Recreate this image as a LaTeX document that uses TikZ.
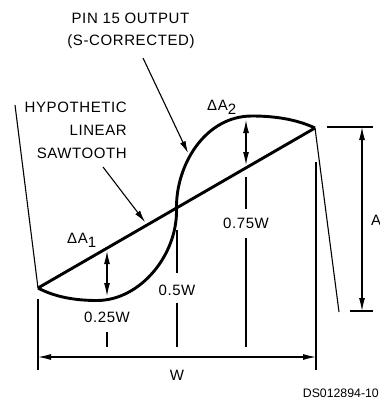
\documentclass[tikz,border=0pt]{standalone}
\usepackage{fontspec}
\setmainfont{Liberation Sans}
\newfontfamily\lblfont[LetterSpace=4]{Liberation Sans}
\usetikzlibrary{arrows.meta}

\begin{document}
\begin{tikzpicture}[x=1pt,y=-1pt,
trace/.style={line width=2.9pt,line join=round},
dimline/.style={line width=1.1pt},
dimarrow/.style={dimline,{Latex[length=13pt,width=6pt]}-{Latex[length=13pt,width=6pt]}},
pointer/.style={dimline,-{Latex[length=12pt,width=6pt]}},
lbl/.style={font=\lblfont\fontsize{15}{18}\selectfont,inner sep=0pt,anchor=base},
tag/.style={font=\fontsize{12.3}{14}\selectfont,inner sep=0pt,anchor=base east}
]
\useasboundingbox (0,0) rectangle (380,399);
% waveform end points
\coordinate (start) at (38,288);
\coordinate (stop) at (315,128);
\coordinate (mid) at (176.5,208);
\coordinate (rl) at (15,105);
\coordinate (rr) at (339,312);
% retrace
\draw[dimline] (rl) -- (start);
\draw[dimline] (stop) -- (rr);
% linear sawtooth and s-corrected output
\draw[trace] (start) -- (stop);
\draw[trace] (start) .. controls (55,297) and (75,300.5) .. (97,300.5)
  .. controls (140,300.5) and (178,255) .. (mid)
  .. controls (176,165) and (205,116) .. (252,116)
  .. controls (280,116) and (300,121) .. (stop);
% extension lines
\coordinate (e0a) at (38,299);  \coordinate (e0b) at (38,370);
\coordinate (e1a) at (107,332); \coordinate (e1b) at (107,347);
\coordinate (e2a) at (177,230); \coordinate (e2b) at (177,273);
\coordinate (e2c) at (177,303); \coordinate (e2d) at (177,347);
\coordinate (e3a) at (246,177); \coordinate (e3b) at (246,209);
\coordinate (e3c) at (246,238); \coordinate (e3d) at (246,347);
\coordinate (e4a) at (316,162); \coordinate (e4b) at (316,370);
\draw[dimline] (e0a) -- (e0b);
\draw[dimline] (e1a) -- (e1b);
\draw[dimline] (e2a) -- (e2b);
\draw[dimline] (e2c) -- (e2d);
\draw[dimline] (e3a) -- (e3b);
\draw[dimline] (e3c) -- (e3d);
\draw[dimline] (e4a) -- (e4b);
% W dimension
\coordinate (wl) at (38,357);
\coordinate (wr) at (316,357);
\draw[dimarrow] (wl) -- (wr);
% A dimension
\coordinate (ta) at (327,127); \coordinate (tb) at (373,127);
\coordinate (ba) at (350,311); \coordinate (bb) at (373,311);
\coordinate (at) at (362,127); \coordinate (ab) at (362,311);
\draw[dimline] (ta) -- (tb);
\draw[dimline] (ba) -- (bb);
\draw[dimarrow] (at) -- (ab);
% delta A arrows
\coordinate (d1t) at (107,251); \coordinate (d1b) at (107,296);
\coordinate (d2t) at (246,120); \coordinate (d2b) at (246,165);
\draw[dimarrow] (d1t) -- (d1b);
\draw[dimarrow] (d2t) -- (d2b);
% labels
\node[lbl] (pin) at (130.5,23) {PIN 15 OUTPUT};
\node[lbl] (scor) at (131,45) {(S-CORRECTED)};
\node[lbl,anchor=base east] (hyp) at (127,112) {HYPOTHETIC};
\node[lbl,anchor=base east] (lin) at (127,135) {LINEAR};
\node[lbl,anchor=base east] (saw) at (127,158) {SAWTOOTH};
\node[lbl,anchor=base west] (da1) at (67,243) {ΔA\raisebox{-4.5pt}{1}};
\node[lbl,anchor=base west] (da2) at (207,110) {ΔA\raisebox{-4.5pt}{2}};
\node[lbl] (q1) at (107,322) {0.25W};
\node[lbl] (q2) at (177,295) {0.5W};
\node[lbl] (q3) at (246,228) {0.75W};
\node[lbl] (wlab) at (177,380) {W};
\node[lbl] (alab) at (376,225) {A};
\node[tag] (code) at (379,397) {DS012894-10};
% pointers
\coordinate (p1s) at (143,58);  \coordinate (p1e) at (188,153);
\coordinate (p2s) at (103,167); \coordinate (p2e) at (145,222);
\draw[pointer] (p1s) -- (p1e);
\draw[pointer] (p2s) -- (p2e);
\end{tikzpicture}
\end{document}
